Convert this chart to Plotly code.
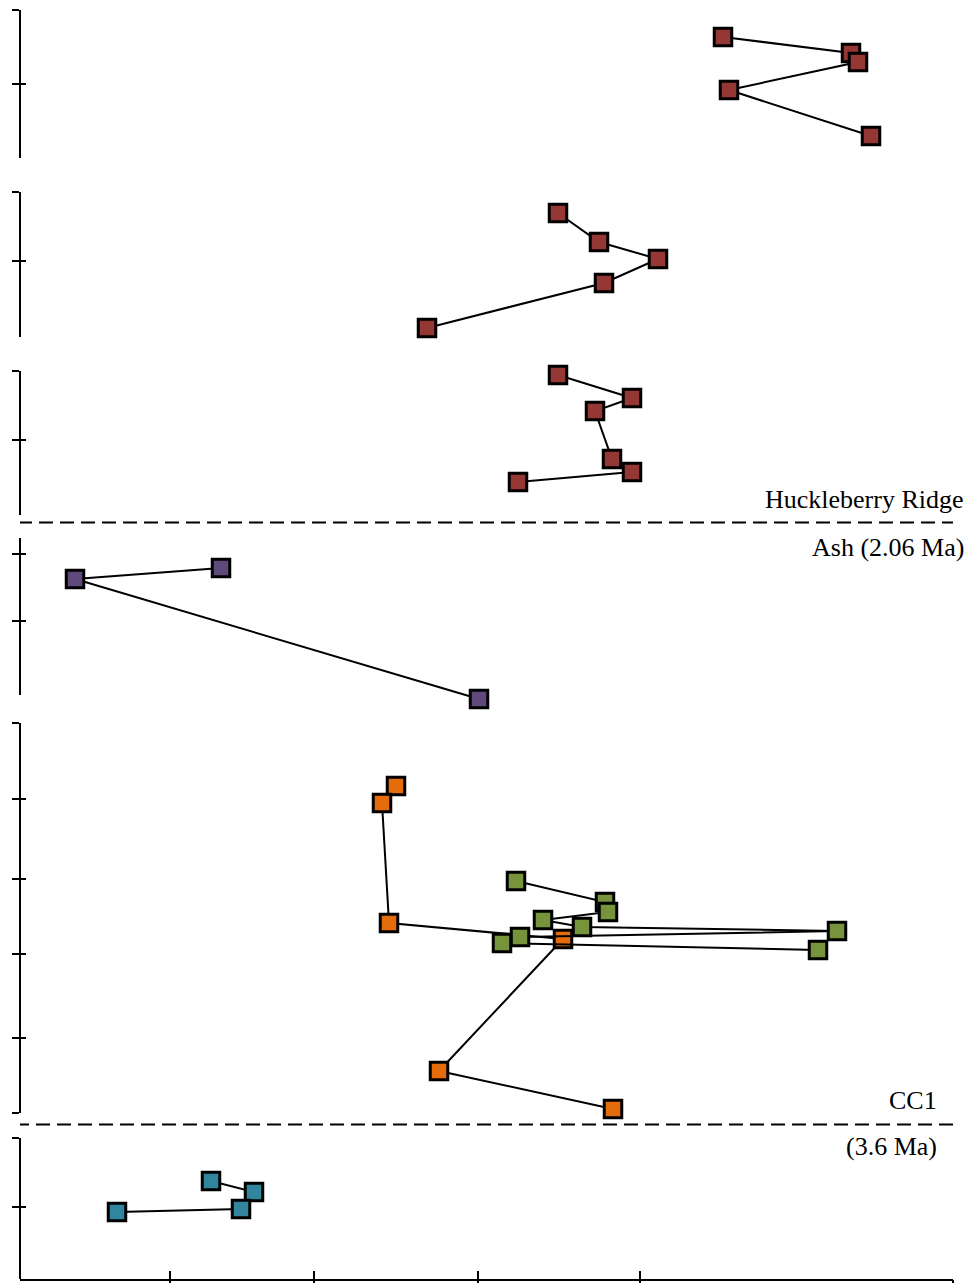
import plotly.graph_objects as go

W, H = 971, 1284

# ---------------- data (x in arbitrary units, y = depth within each section) -------------
# Section 1 (top)
s1_x = [705, 833, 840, 711, 853]
s1_y = [27, 43, 52, 80, 126]
# Section 2
s2_x = [540, 581, 640, 586, 409]
s2_y = [21, 50, 67, 91, 136]
# Section 3
s3_x = [540, 614, 577, 594, 614, 500]
s3_y = [4, 27, 40, 88, 101, 111]
# Section 4 (below Huckleberry Ridge Ash)
s4_x = [203, 57, 461]
s4_y = [30, 41, 161]
# Section 5 - two series
s5a_x = [378, 364, 371, 545, 421, 595]
s5a_y = [63, 80, 200, 216, 348, 386]
s5b_x = [498, 587, 590, 525, 564, 819, 502, 484, 800]
s5b_y = [158, 179, 189, 197, 204, 208, 214, 220, 227]
# Section 6 (below CC1)
s6_x = [193, 236, 223, 99]
s6_y = [43, 54, 71, 74]

section_heights = [148, 145, 144, 157, 390, 141]
section_ticks = [[0, 74], [0, 69], [0, 69], [16, 83], [0, 76, 156, 231, 315, 390], [0, 69]]
x_ticks = [152, 296, 460, 622, 935]
x_range = [2, 935]

boundary_labels = [("Huckleberry Ridge", "Ash (2.06 Ma)"), ("CC1", "(3.6 Ma)")]

# ---------------- layout positions (pixels) -------------
panel_px = [(10, 158), (192, 337), (371, 515), (538, 695), (723, 1113), (1138, 1279)]
panel_pad = [0, 0, 0, 10, 0, 0]   # extra room below an axis for points past its end
boundary_px = [522.5, 1124.5]
boundary_x = [(0, 937), (-3, 937)]
label_pos = [((966, 500), (966, 548)), ((939, 1100), (939, 1146))]
x_dom = [20, 953]

RED = "#953735"
PURPLE = "#5f497a"
ORANGE = "#e46c0a"
GREEN = "#77933c"
TEAL = "#31859c"

def py(p):
    return 1 - p / H

fig = go.Figure()

series = [
    (s1_x, s1_y, RED, 1),
    (s2_x, s2_y, RED, 2),
    (s3_x, s3_y, RED, 3),
    (s4_x, s4_y, PURPLE, 4),
    (s5a_x, s5a_y, ORANGE, 5),
    (s5b_x, s5b_y, GREEN, 5),
    (s6_x, s6_y, TEAL, 6),
]
for xs, ys, col, k in series:
    fig.add_trace(go.Scatter(
        x=xs, y=ys, mode="lines+markers",
        xaxis="x", yaxis="y" if k == 1 else f"y{k}",
        line=dict(color="black", width=2),
        marker=dict(symbol="square", size=17.5, color=col,
                    line=dict(color="black", width=3)),
        cliponaxis=False, showlegend=False, hoverinfo="skip",
    ))

n = len(panel_px)
# dummy traces so the overlay axes (crossing ticks) are rendered
for i in range(n):
    fig.add_trace(go.Scatter(x=[None], y=[None], xaxis="x", yaxis=f"y{n + i + 1}",
                             mode="markers", showlegend=False, hoverinfo="skip"))
fig.add_trace(go.Scatter(x=[None], y=[None], xaxis="x2", yaxis="y6",
                         mode="markers", showlegend=False, hoverinfo="skip"))

layout = dict(
    width=W, height=H, margin=dict(l=0, r=0, t=0, b=0),
    paper_bgcolor="white", plot_bgcolor="rgba(0,0,0,0)",
    showlegend=False,
    xaxis=dict(domain=[x_dom[0] / W, x_dom[1] / W], range=x_range, anchor="y6",
               showline=True, linecolor="black", linewidth=2,
               ticks="inside", ticklen=8, tickwidth=1.6, tickcolor="black",
               tickvals=x_ticks, showticklabels=False,
               showgrid=False, zeroline=False, fixedrange=True),
    xaxis2=dict(overlaying="x", anchor="y6", range=x_range, side="bottom",
                ticks="outside", ticklen=3, tickwidth=1.6, tickcolor="black",
                tickvals=x_ticks, showticklabels=False, showline=False,
                showgrid=False, zeroline=False),
)
for i, ((t, b), hgt, tv, pad) in enumerate(zip(panel_px, section_heights, section_ticks, panel_pad)):
    name = "yaxis" if i == 0 else f"yaxis{i+1}"
    yref = "y" if i == 0 else f"y{i+1}"
    layout[name] = dict(
        domain=[py(b + pad), py(t)], range=[hgt + pad, 0], anchor="x",
        showline=False,
        ticks="outside", ticklen=7, tickwidth=1.6, tickcolor="black",
        tickvals=tv, showticklabels=False,
        showgrid=False, zeroline=False, fixedrange=True,
    )
    layout[f"yaxis{n + i + 1}"] = dict(
        overlaying=yref, anchor="x", side="left", range=[hgt + pad, 0],
        ticks="inside", ticklen=6, tickwidth=1.6, tickcolor="black",
        tickvals=tv, showticklabels=False, showline=False,
        showgrid=False, zeroline=False,
    )
    # axis line over the section's own extent
    fig.add_shape(type="line", xref="paper", yref=yref,
                  x0=x_dom[0] / W, x1=x_dom[0] / W, y0=0, y1=hgt,
                  line=dict(color="black", width=2))
fig.update_layout(**layout)

for bpx, (x0, x1) in zip(boundary_px, boundary_x):
    fig.add_shape(type="line", xref="x", yref="paper", x0=x0, x1=x1,
                  y0=py(bpx), y1=py(bpx),
                  line=dict(color="black", width=2, dash="14px,7px"))

for (top_txt, bot_txt), ((xa, ya), (xb, yb)) in zip(boundary_labels, label_pos):
    for txt, xx, yy in ((top_txt, xa, ya), (bot_txt, xb, yb)):
        fig.add_annotation(text=txt, xref="paper", yref="paper",
                           x=xx / W, y=py(yy), xanchor="right", yanchor="middle",
                           showarrow=False,
                           font=dict(family="Liberation Serif", size=26, color="black"))

fig.write_html("out.html")
